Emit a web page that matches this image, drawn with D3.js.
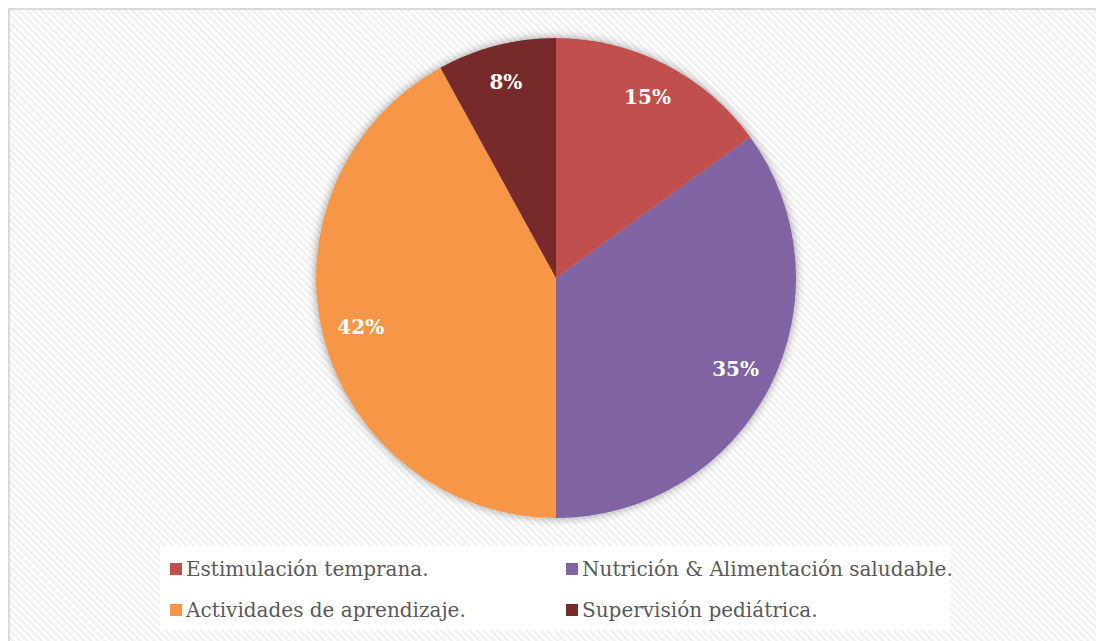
<!DOCTYPE html>
<html>
<head>
<meta charset="utf-8">
<script src="https://cdn.jsdelivr.net/npm/d3@7/dist/d3.min.js"></script>
<style>
  html, body { margin: 0; padding: 0; background: #ffffff; }
  svg { display: block; }
</style>
</head>
<body>
<svg id="chart" width="1096" height="641"></svg>
<script>
// Share of activities (percent), clockwise from 12 o'clock
const categories = [
  "Estimulación temprana.",
  "Nutrición & Alimentación saludable.",
  "Actividades de aprendizaje.",
  "Supervisión pediátrica."
];
const values = [15, 35, 42, 8];
const colors = ["#C0504D", "#8064A2", "#F79646", "#772C2A"];

const W = 1096, H = 641;
const svg = d3.select("#chart");
const defs = svg.append("defs");

// diagonal light stripes for the chart area
const pat = defs.append("pattern")
  .attr("id", "stripes")
  .attr("patternUnits", "userSpaceOnUse")
  .attr("width", 5).attr("height", 5)
  .attr("patternTransform", "rotate(-45)");
pat.append("rect").attr("width", 5).attr("height", 5).attr("fill", "#ffffff");
pat.append("rect").attr("width", 2.5).attr("height", 5).attr("fill", "#f0f0f0");

// soft halo around the pie
const f = defs.append("filter").attr("id", "halo")
  .attr("x", "-20%").attr("y", "-20%").attr("width", "140%").attr("height", "140%");
f.append("feGaussianBlur").attr("in", "SourceAlpha").attr("stdDeviation", 5).attr("result", "b");
f.append("feComponentTransfer").attr("in", "b").attr("result", "s")
  .append("feFuncA").attr("type", "linear").attr("slope", 0.4);
const m = f.append("feMerge");
m.append("feMergeNode").attr("in", "s");
m.append("feMergeNode").attr("in", "SourceGraphic");

// chart area with border
svg.append("rect")
  .attr("x", 9).attr("y", 9).attr("width", W).attr("height", H)
  .attr("fill", "url(#stripes)")
  .attr("stroke", "#d9d9d9").attr("stroke-width", 2);

const cx = 556, cy = 278, r = 240;
const pie = d3.pie().sort(null).value(d => d)(values);
const arc = d3.arc().innerRadius(0).outerRadius(r);
const labelArc = d3.arc().innerRadius(r * 0.84).outerRadius(r * 0.84);

const g = svg.append("g").attr("transform", `translate(${cx},${cy})`);
g.append("g").attr("filter", "url(#halo)")
  .selectAll("path").data(pie).join("path")
  .attr("d", arc)
  .attr("fill", (d, i) => colors[i]);

g.selectAll("text").data(pie).join("text")
  .attr("transform", d => `translate(${labelArc.centroid(d)})`)
  .attr("text-anchor", "middle")
  .attr("dy", "0.3em")
  .attr("fill", "#ffffff")
  .attr("font-family", "'DejaVu Serif', serif")
  .attr("font-weight", "bold")
  .attr("font-size", 20)
  .text(d => d.data + "%");

// legend
const lg = svg.append("g");
lg.append("rect").attr("x", 160).attr("y", 546).attr("width", 790).attr("height", 84).attr("fill", "#ffffff");
const legendPos = [[170, 569], [566, 569], [170, 610], [566, 610]];
const items = lg.selectAll("g.item").data(categories).join("g")
  .attr("class", "item")
  .attr("transform", (d, i) => `translate(${legendPos[i][0]},${legendPos[i][1]})`);
items.append("rect").attr("x", 0).attr("y", -6).attr("width", 12).attr("height", 12)
  .attr("fill", (d, i) => colors[i]);
items.append("text")
  .attr("x", 16).attr("dy", "0.35em")
  .attr("fill", "#595959")
  .attr("font-family", "'DejaVu Serif', serif")
  .attr("font-size", 20)
  .text(d => d);
</script>
</body>
</html>
